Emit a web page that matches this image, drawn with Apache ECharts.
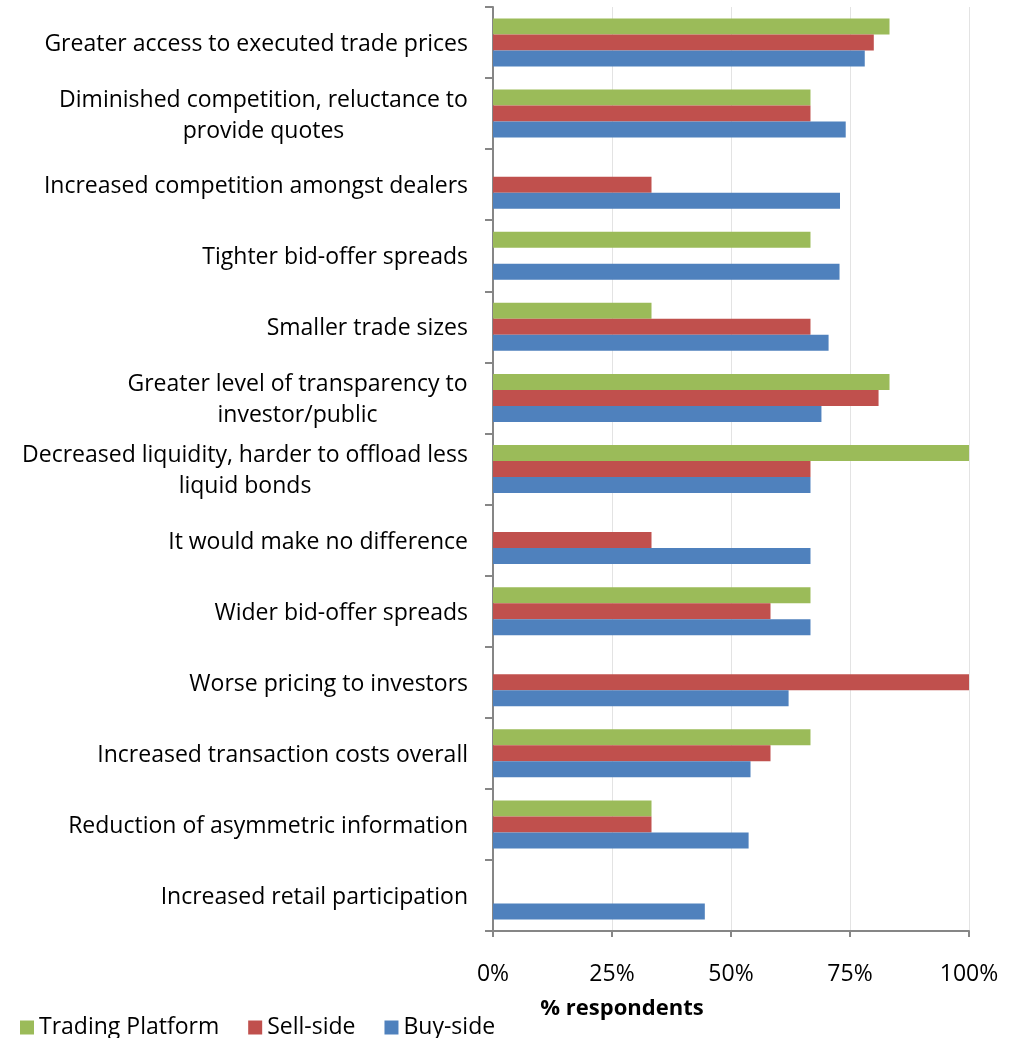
<!DOCTYPE html>
<html>
<head>
<meta charset="utf-8">
<script src="https://cdn.jsdelivr.net/npm/echarts@6/dist/echarts.min.js"></script>
<style>
html,body{margin:0;padding:0;background:#fff;}
#chart{width:1010px;height:1038px;}
</style>
</head>
<body>
<div id="chart"></div>
<script>
const categories = [
  "Greater access to executed trade prices",
  "Diminished competition, reluctance to\nprovide quotes",
  "Increased competition amongst dealers",
  "Tighter bid-offer spreads",
  "Smaller trade sizes",
  "Greater level of transparency to\ninvestor/public",
  "Decreased liquidity, harder to offload less\nliquid bonds",
  "It would make no difference",
  "Wider bid-offer spreads",
  "Worse pricing to investors",
  "Increased transaction costs overall",
  "Reduction of asymmetric information",
  "Increased retail participation"
];
const seriesNames = ["Trading Platform", "Sell-side", "Buy-side"];
const tradingPlatform = [83.3, 66.7, 0, 66.7, 33.3, 83.3, 100, 0, 66.7, 0, 66.7, 33.3, 0];
const sellSide = [80.0, 66.7, 33.3, 0, 66.7, 81.0, 66.7, 33.3, 58.3, 100, 58.3, 33.3, 0];
const buySide = [78.1, 74.1, 72.9, 72.8, 70.5, 69.0, 66.7, 66.7, 66.7, 62.1, 54.1, 53.7, 44.5];
const xTickLabels = ["0%", "25%", "50%", "75%", "100%"];

const FONT = '"Open Sans", "Liberation Sans", Arial, sans-serif';
const FS = 23;
const colors = ["#9BBB59", "#C0504D", "#4F81BD"];

// rich styles to center lines of multi-line labels
const ctx = document.createElement('canvas').getContext('2d');
ctx.font = FS + 'px ' + FONT;
const rich = {};
const labelMap = {};
categories.forEach((c, i) => {
  const lines = c.split('\n');
  if (lines.length > 1) {
    const w = Math.ceil(Math.max(...lines.map(l => ctx.measureText(l).width)));
    const key = 'm' + i;
    rich[key] = { width: w, align: 'center', fontSize: FS, fontFamily: FONT, color: '#000', lineHeight: 31 };
    labelMap[c] = lines.map(l => '{' + key + '|' + l + '}').join('\n');
  } else {
    labelMap[c] = c;
  }
});

const chart = echarts.init(document.getElementById('chart'), null, { renderer: 'canvas' });
const seriesData = [tradingPlatform, sellSide, buySide];
chart.setOption({
  animation: false,
  color: colors,
  grid: { left: 493, right: 41, top: 7, bottom: 107, containLabel: false },
  legend: {
    left: 15, top: 1011, itemWidth: 14, itemHeight: 14, itemGap: 29,
    icon: 'rect',
    textStyle: { fontSize: FS, fontFamily: FONT, color: '#000' },
    data: seriesNames
  },
  xAxis: {
    type: 'value', min: 0, max: 100, interval: 25,
    axisLine: { show: true, lineStyle: { color: '#868686', width: 2 } },
    axisTick: { show: true, length: 6, lineStyle: { color: '#868686', width: 2 } },
    splitLine: { show: true, lineStyle: { color: '#e3e3e3', width: 1 } },
    axisLabel: {
      margin: 32, fontSize: FS, fontFamily: FONT, color: '#000',
      formatter: v => xTickLabels[Math.round(v / 25)]
    },
    name: '% respondents',
    nameLocation: 'middle',
    nameGap: 67,
    nameTextStyle: { fontSize: FS - 1, fontWeight: 'bold', fontFamily: FONT, color: '#000', padding: [0, 218, 0, 0] }
  },
  yAxis: {
    type: 'category', inverse: true, data: categories,
    axisLine: { show: true, lineStyle: { color: '#868686', width: 2 } },
    axisTick: { show: true, length: 8, lineStyle: { color: '#868686', width: 2 } },
    axisLabel: {
      margin: 25, fontSize: FS, fontFamily: FONT, color: '#000', padding: [4, 0, 0, 0],
      formatter: v => labelMap[v], rich: rich
    }
  },
  series: seriesNames.map((n, i) => ({
    name: n, type: 'bar', data: seriesData[i],
    barWidth: 16, barGap: '0%'
  }))
});
</script>
</body>
</html>
